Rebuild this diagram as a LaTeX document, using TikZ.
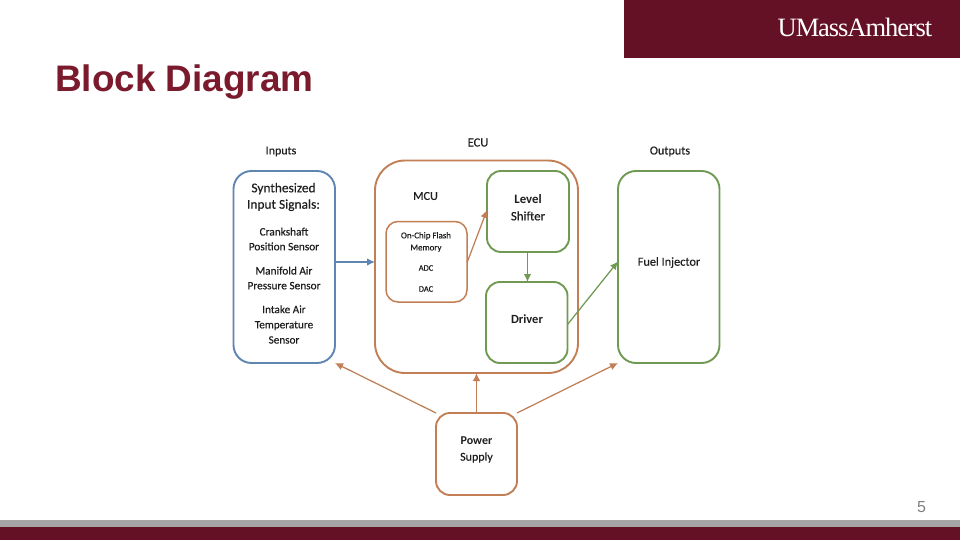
\documentclass[tikz,border=0pt]{standalone}
\usepackage{fontspec}
\setmainfont[FakeBold=0.35,AutoFakeBold=false]{Carlito}
\newfontfamily\strongfont{Carlito}
\newfontfamily\titlefont{Liberation Sans}
\newfontfamily\logofont[LetterSpace=-4]{Liberation Serif}
\usetikzlibrary{arrows.meta}
\definecolor{maroon}{HTML}{641125}
\definecolor{titlered}{HTML}{7A1A2C}
\definecolor{barGray}{HTML}{A5A5A5}
\definecolor{oline}{HTML}{C27F55}
\definecolor{bline}{HTML}{5F86B2}
\definecolor{gline}{HTML}{709A52}
\definecolor{txt}{HTML}{1E1E1E}
\tikzset{
  box/.style={draw=#1,line width=1.9pt,rounded corners=16pt,inner sep=0pt,outer sep=0pt,anchor=north west},
  conn/.style={draw=#1,line width=1.25pt,-{Latex[length=8pt,width=7.5pt]}},
  lab/.style={text=txt,font=\fontsize{#1}{#1}\selectfont,inner sep=0pt,align=center}
}
\begin{document}
\begin{tikzpicture}[x=1pt,y=-1pt]
\useasboundingbox (0,0) rectangle (960,540);
\fill[white] (0,0) rectangle (960,540);
\fill[maroon] (624,0) rectangle (960,58);
\fill[barGray] (0,520) rectangle (960,527);
\fill[maroon] (0,527) rectangle (960,540);
\node[anchor=base,inner sep=0pt,text=white,font=\logofont\fontsize{26.5}{26.5}\selectfont] (logo) at (855,37) {UMassAmherst};
\node[anchor=base west,inner sep=0pt,text=titlered,font=\titlefont\bfseries\fontsize{36.9}{36.9}\selectfont] (title) at (55,91.5) {Block Diagram};
\node[anchor=center,inner sep=0pt,text=gray,font=\titlefont\fontsize{16}{16}\selectfont] (page) at (921.5,507) {5};

\node[box=bline,rounded corners=18pt,minimum width=101.5pt,minimum height=192pt] (inputs) at (233.5,171) {};
\node[box=oline,rounded corners=30pt,minimum width=203pt,minimum height=212.5pt] (ecu) at (375,160.5) {};
\node[box=oline,rounded corners=12pt,line width=1.5pt,minimum width=81pt,minimum height=80.5pt] (flash) at (386,221.5) {};
\node[box=gline,rounded corners=14pt,minimum width=82pt,minimum height=81pt] (level) at (487,171) {};
\node[box=gline,rounded corners=14pt,minimum width=81.5pt,minimum height=81pt] (driver) at (486,282) {};
\node[box=gline,rounded corners=18pt,minimum width=101.5pt,minimum height=192pt] (fuel) at (618,171) {};
\node[box=oline,rounded corners=14pt,minimum width=81pt,minimum height=82pt] (power) at (436,413) {};

\path[conn=bline] ([yshift=5pt]inputs.east) -- ([yshift=5pt]inputs.east -| ecu.west);
\path[conn=oline] ([yshift=-1pt]flash.east) -- ([yshift=1.5pt]level.west);
\path[conn=gline] ([xshift=-0.5pt]level.south) -- ([xshift=-0.5pt]level.south |- driver.north);
\path[conn=gline] ([yshift=-2pt]driver.east) -- ([yshift=5.5pt]fuel.west);
\path[conn=oline] (power.north) -- (power.north |- ecu.south);
\path[conn=oline] (power.north west) -- (inputs.south east);
\path[conn=oline] (power.north east) -- (fuel.south west);

\node[lab=12] (tinputs) at (281,151.5) {Inputs};
\node[lab=12.5] (tecu) at (478,142.5) {ECU};
\node[lab=12.2] (toutputs) at (670,151.5) {Outputs};
\node[lab=13.4] (tsyn) at (283.5,197) {Synthesized\\[3pt]Input Signals:};
\node[lab=11.3] (tcrank) at (284,239) {Crankshaft\\[3.5pt]Position Sensor};
\node[lab=11.3] (tman) at (284,278) {Manifold Air\\[3.5pt]Pressure Sensor};
\node[lab=11.2] (tint) at (284,324.5) {Intake Air\\[4pt]Temperature\\[4pt]Sensor};
\node[lab=12.2] (tmcu) at (425.5,196) {MCU};
\node[lab=8.9] (tflash) at (426,242) {On-Chip Flash\\[3.2pt]Memory};
\node[lab=8.4] (tadc) at (426,268) {ADC};
\node[lab=8.4] (tdac) at (426,289) {DAC};
\node[lab=12.8] (tlevel) at (528,207.5) {{\strongfont\bfseries Level}\\[4pt]Shifter};
\node[lab=12.5] (tdriver) at (527,319) {{\strongfont\bfseries Driver}};
\node[lab=12.3] (tfuel) at (669,262.5) {Fuel Injector};
\node[lab=12] (tpower) at (476.5,449.5) {{\strongfont\bfseries Power}\\[4.5pt]Supply};
\end{tikzpicture}
\end{document}
